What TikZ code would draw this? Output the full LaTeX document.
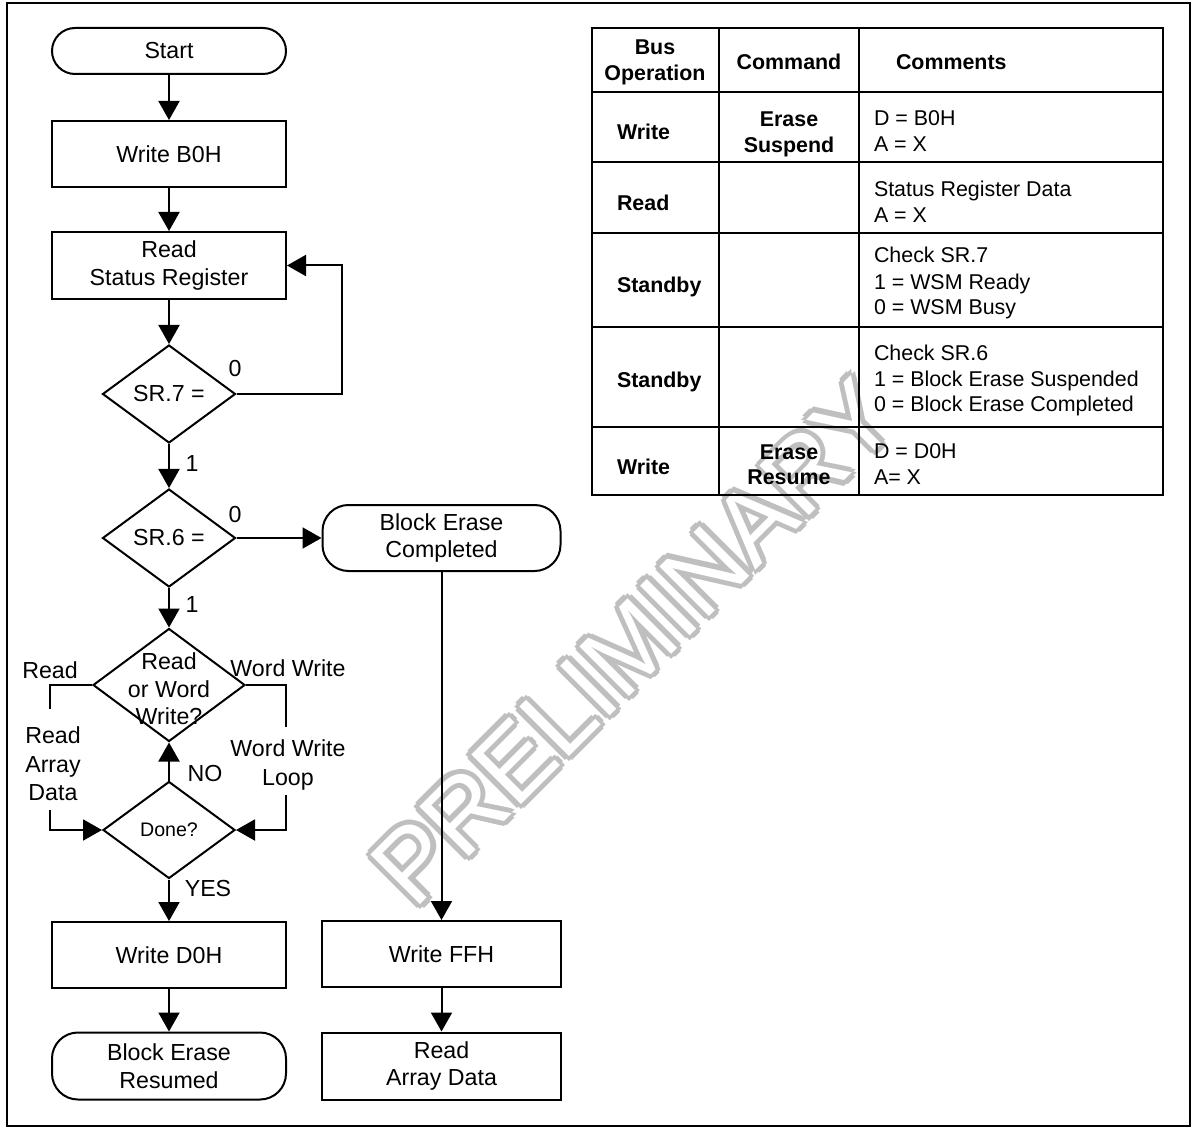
\documentclass[tikz,border=0pt]{standalone}
\usepackage{fontspec}
\setmainfont{Liberation Sans}
\usetikzlibrary{arrows.meta,shapes.geometric,calc}
\newcommand\flowfont{\fontsize{11.6}{13.75}\selectfont}
\newcommand\smallflowfont{\fontsize{9.8}{12}\selectfont}
\newcommand\tabfont{\fontsize{10.7}{13}\selectfont}
\newcommand\tabbold{\fontsize{10.7}{13}\selectfont\bfseries}
\begin{document}
\begin{tikzpicture}[x=0.5pt,y=-0.5pt,line width=1pt,
  arr/.style={-{Triangle[length=9.5pt,width=10.5pt]}},
  box/.style={draw,minimum width=117pt,minimum height=33pt,inner sep=0pt,align=center,font=\flowfont},
  dia/.style={draw,diamond,inner sep=0pt,minimum width=66.5pt,minimum height=49pt,font=\flowfont},
  lbl/.style={font=\flowfont,anchor=base,inner sep=0pt},
  tb/.style={font=\tabbold,anchor=base,inner sep=0pt},
  tbw/.style={font=\tabbold,anchor=base west,inner sep=0pt},
  tt/.style={font=\tabfont,anchor=base west,inner sep=0pt},
  wmk/.style={font=\fontsize{51}{51}\selectfont,rotate=45,inner sep=0pt,anchor=center},
]
\useasboundingbox (0,0) rectangle (1198,1128);

% watermark (outlined letters)
\coordinate (wmc) at (634,642);
\foreach \a in {0,45,...,315}
  \node[wmk,text=gray!50] (wm\a) at ($(wmc)+(\a:2.6pt)$) {PRELIMINARY};
\node[wmk,text=white] (wmw) at (wmc) {PRELIMINARY};

% frame
\draw (7,3) rectangle (1190,1126);

% flowchart, left column
\node[box,rounded corners=11.5pt,minimum height=23pt] (start) at (169,51) {Start};
\node[box] (wb0) at (169,154) {Write B0H};
\node[box,minimum height=33.5pt] (rsr) at (169,265.5) {Read\\Status Register};
\node[dia] (sr7) at (169,394) {SR.7 =};
\node[dia] (sr6) at (169,538) {SR.6 =};
\node[dia,minimum width=76pt,minimum height=56.5pt] (rww) at (169,685) {};
\node[font=\flowfont,align=center,inner sep=0pt] (rwwt) at (169,689) {Read\\or Word\\Write?};
\node[dia,minimum width=66pt,minimum height=48.5pt,font=\smallflowfont] (done) at (169,830) {Done?};
\node[box] (wd0) at (169,955) {Write D0H};
\node[box,rounded corners=13pt,minimum height=33.5pt] (ber) at (169,1066) {Block Erase\\Resumed};

% right column
\node[box,rounded corners=13pt,minimum width=119pt] (bec) at (441.5,538) {Block Erase\\Completed};
\node[box,minimum width=119.5pt] (wff) at (441.5,954) {Write FFH};
\node[box,minimum width=119.5pt,minimum height=33.5pt] (rad) at (441.5,1066) {Read\\Array Data};

% connectors
\draw[arr] (start) -- (wb0);
\draw[arr] (wb0) -- (rsr);
\draw[arr] (rsr) -- (sr7);
\coordinate (loopc) at (342,394);
\draw[arr] (sr7.east) -- (loopc) |- (rsr.east);
\draw[arr] (sr7) -- (sr6);
\draw[arr] (sr6) -- (rww);
\draw[arr] (sr6) -- (bec);
\draw[arr] (done) -- (rww);
\draw[arr] (done) -- (wd0);
\draw[arr] (wd0) -- (ber);
\draw[arr] (bec) -- (wff);
\draw[arr] (wff) -- (rad);
\coordinate (l1) at (50,709);
\coordinate (l2) at (50,810);
\coordinate (r1) at (286,727);
\coordinate (r2) at (286,795);
\draw (rww.west) -| (l1);
\draw[arr] (l2) |- (done.west);
\draw (rww.east) -| (r1);
\draw[arr] (r2) |- (done.east);

% flow labels
\node[lbl] (z7) at (235,377) {0};
\node[lbl] (o7) at (192,471) {1};
\node[lbl] (z6) at (235,522) {0};
\node[lbl] (o6) at (192,612) {1};
\node[lbl] (lread) at (50,678) {Read};
\node[lbl] (lww) at (288,676) {Word Write};
\node[lbl] (lrad1) at (53,743) {Read};
\node[lbl] (lrad2) at (53,772) {Array};
\node[lbl] (lrad3) at (53,800) {Data};
\node[lbl] (lwwl1) at (288,756) {Word Write};
\node[lbl] (lwwl2) at (288,785) {Loop};
\node[lbl] (lno) at (205,781) {NO};
\node[lbl] (lyes) at (208,896) {YES};

% table
\draw (592,28) rectangle (1163,495);
\draw (719,28) -- (719,495);
\draw (859,28) -- (859,495);
\foreach \yy in {92,162,233,327,427} \draw (592,\yy) -- (1163,\yy);

\node[tb] (h1a) at (655,54.5) {Bus};
\node[tb] (h1b) at (655,80.5) {Operation};
\node[tb] (h2) at (789,69.5) {Command};
\node[tbw] (h3) at (895,69.5) {Comments};

\node[tbw] (b1) at (616,139.5) {Write};
\node[tb] (c1a) at (789,126.5) {Erase};
\node[tb] (c1b) at (789,152.5) {Suspend};
\node[tt] (m1a) at (873,125.5) {D = B0H};
\node[tt] (m1b) at (873,151.5) {A = X};

\node[tbw] (b2) at (616,210.5) {Read};
\node[tt] (m2a) at (873,196.5) {Status Register Data};
\node[tt] (m2b) at (873,222.5) {A = X};

\node[tbw] (b3) at (616,292.5) {Standby};
\node[tt] (m3a) at (873,262.5) {Check SR.7};
\node[tt] (m3b) at (873,289.5) {1 = WSM Ready};
\node[tt] (m3c) at (873,314.5) {0 = WSM Busy};

\node[tbw] (b4) at (616,387.5) {Standby};
\node[tt] (m4a) at (873,360.5) {Check SR.6};
\node[tt] (m4b) at (873,386.5) {1 = Block Erase Suspended};
\node[tt] (m4c) at (873,411.5) {0 = Block Erase Completed};

\node[tbw] (b5) at (616,474.5) {Write};
\node[tb] (c5a) at (789,459.5) {Erase};
\node[tb] (c5b) at (789,484.5) {Resume};
\node[tt] (m5a) at (873,458.5) {D = D0H};
\node[tt] (m5b) at (873,484.5) {A= X};
\end{tikzpicture}
\end{document}
